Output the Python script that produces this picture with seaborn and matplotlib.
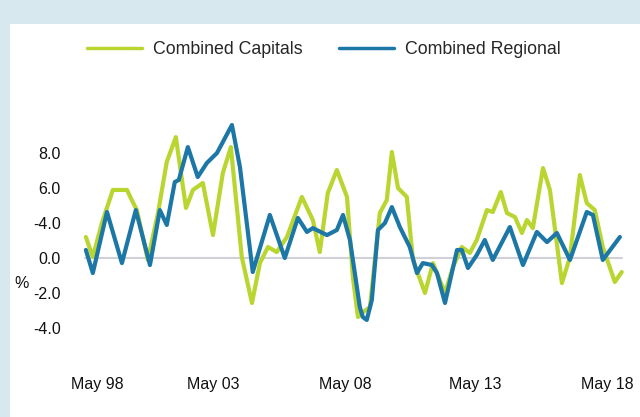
import pandas as pd
import matplotlib.pyplot as plt
import seaborn as sns
from matplotlib.patches import Rectangle

# Du lieu doc tu hinh (nam thap phan, gia tri theo vach chia cua truc)
cap_year = [1998.33, 1998.59, 1998.93, 1999.34, 1999.87, 2000.05, 2000.24, 2000.65, 2001.03, 2001.36,
            2001.70, 2002.08, 2002.34, 2002.71, 2003.09, 2003.46, 2003.76, 2004.17, 2004.55, 2004.85,
            2005.15, 2005.48, 2005.86, 2006.42, 2006.83, 2007.09, 2007.39, 2007.73, 2008.11, 2008.33,
            2008.52, 2008.67, 2008.97, 2009.34, 2009.60, 2009.79, 2010.02, 2010.35, 2010.58, 2011.03,
            2011.33, 2011.78, 2012.08, 2012.41, 2012.71, 2012.97, 2013.35, 2013.57, 2013.87, 2014.10,
            2014.40, 2014.66, 2014.85, 2015.07, 2015.45, 2015.71, 2016.16, 2016.46, 2016.83, 2017.09,
            2017.39, 2017.69, 2018.14, 2018.40]
cap_val = [1.20, 0.06, 2.00, 3.89, 3.89, 3.31, 2.74, -0.11, 2.57, 5.49,
           6.91, 2.86, 3.89, 4.29, 1.31, 4.86, 6.34, 0.06, -2.57, -0.29,
           0.63, 0.34, 1.20, 3.49, 2.17, 0.34, 3.71, 5.03, 3.49, -1.09,
           -3.37, -3.14, -2.80, 2.57, 3.31, 6.06, 4.00, 3.49, -0.11, -2.00,
           -0.29, -2.00, -0.51, 0.63, 0.29, 1.03, 2.74, 2.63, 3.77, 2.57,
           2.34, 1.43, 2.17, 1.71, 5.14, 3.89, -1.43, 0.06, 4.74, 3.14,
           2.74, 0.63, -1.37, -0.80]

reg_year = [1998.33, 1998.59, 1999.12, 1999.68, 2000.20, 2000.73, 2001.10, 2001.36, 2001.66, 2001.81,
            2002.15, 2002.52, 2002.86, 2003.24, 2003.80, 2004.10, 2004.58, 2005.22, 2005.78, 2006.27,
            2006.61, 2006.83, 2007.36, 2007.73, 2007.96, 2008.22, 2008.59, 2008.70, 2008.85, 2009.04,
            2009.27, 2009.53, 2009.79, 2010.09, 2010.46, 2010.73, 2010.95, 2011.29, 2011.48, 2011.78,
            2012.23, 2012.41, 2012.64, 2012.97, 2013.27, 2013.57, 2014.21, 2014.70, 2015.22, 2015.60,
            2015.97, 2016.46, 2017.09, 2017.32, 2017.69, 2018.33]
reg_val = [0.46, -0.86, 2.63, -0.29, 2.74, -0.40, 2.74, 1.89, 4.34, 4.46,
           6.34, 4.63, 5.43, 6.00, 7.60, 5.20, -0.80, 2.46, 0.00, 2.29,
           1.49, 1.71, 1.31, 1.60, 2.46, 1.03, -2.80, -3.37, -3.54, -2.40,
           1.60, 2.00, 2.91, 1.77, 0.63, -0.86, -0.29, -0.40, -0.86, -2.57,
           0.46, 0.46, -0.57, 0.17, 1.03, -0.11, 1.77, -0.40, 1.49, 0.91,
           1.43, -0.11, 2.63, 2.46, -0.11, 1.20]

series = ["Combined Capitals", "Combined Regional"]
colors = ["#b9d530", "#1c77a6"]

ytick_pos = [6, 4, 2, 0, -2, -4]
ytick_labels = ["8.0", "6.0", "-4.0", "0.0", "-2.0", "-4.0"]
# where the labels sit in the picture
xtick_pos = [1998.74, 2003.09, 2008.03, 2012.90, 2017.85]
xtick_labels = ["May 98", "May 03", "May 08", "May 13", "May 18"]

df = pd.concat([
    pd.DataFrame({"year": cap_year, "value": cap_val, "series": series[0]}),
    pd.DataFrame({"year": reg_year, "value": reg_val, "series": series[1]}),
])

sns.set_style("white")
plt.rcParams["font.family"] = ["Liberation Sans", "DejaVu Sans"]

fig = plt.figure(figsize=(6.4, 4.17), dpi=100, facecolor="#d8e8ef")
fig.patches.append(Rectangle((10 / 640, 0), 1, 1 - 24 / 417, transform=fig.transFigure,
                             facecolor="white", edgecolor="none", zorder=-5))
ax = fig.add_axes([0.125, 0.1727, 0.859, 0.5875])
ax.set_facecolor("none")

ax.axhline(0, color="#cfd0d8", lw=1.5, xmin=0.01, xmax=0.985, zorder=1)
sns.lineplot(data=df, x="year", y="value", hue="series", palette=colors,
             linewidth=3, ax=ax, legend=False, zorder=3, sort=False,
             solid_joinstyle="round", solid_capstyle="round")

ax.set_xlim(1998.11, 2018.70)
ax.set_ylim(-4.97, 9.03)
ax.set_yticks(ytick_pos)
ax.set_yticklabels(ytick_labels)
ax.set_xticks(xtick_pos)
ax.set_xticklabels(xtick_labels)
ax.tick_params(axis="y", length=0, pad=14, labelsize=11.5, labelcolor="#111111")
ax.tick_params(axis="x", length=0, pad=23, labelsize=11.5, labelcolor="#111111")
ax.set_xlabel("")
ax.set_ylabel("")
sns.despine(ax=ax, left=True, bottom=True)

fig.text(22 / 640, 1 - 283 / 417, "%", fontsize=11.5, ha="center", va="center", color="#111111")

handles = [plt.Line2D([], [], color=c, lw=2.5) for c in colors]
fig.legend(handles, series, loc="center", bbox_to_anchor=(0.506, 1 - 50 / 417), ncol=2,
           frameon=False, fontsize=12.8, handlelength=3.1, handletextpad=0.65, columnspacing=2.0)

fig.savefig("out.png", dpi=100, facecolor=fig.get_facecolor())
